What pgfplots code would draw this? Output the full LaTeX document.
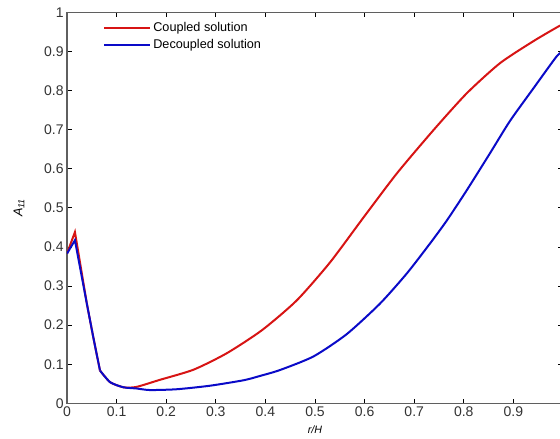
\documentclass[border=0pt]{standalone}
\usepackage{pgfplots}
\pgfplotsset{compat=1.18}
\usepackage{fontspec}
\setmainfont{Liberation Sans}
\definecolor{axcol}{RGB}{95,95,95}
\definecolor{redc}{RGB}{215,20,20}
\definecolor{bluec}{RGB}{10,10,200}
\begin{document}
\begin{tikzpicture}
\begin{axis}[
  scale only axis,
  width=372pt, height=293.25pt,
  xmin=0, xmax=1, ymin=0, ymax=1,
  xtick={0,0.1,...,0.95}, ytick={0,0.1,...,1},
  extra x ticks={1}, extra x tick labels={},
  xticklabels={0,0.1,0.2,0.3,0.4,0.5,0.6,0.7,0.8,0.9},
  yticklabels={0,0.1,0.2,0.3,0.4,0.5,0.6,0.7,0.8,0.9,1},
  tick align=inside,
  major tick length=3.5pt,
  tick style={black, line width=0.6pt},
  axis line style={axcol, line width=1.2pt},
  ticklabel style={font=\fontsize{10.5}{12}\selectfont, text=black!80},
  xticklabel style={yshift=1pt},
  yticklabel style={xshift=1pt},
  xlabel={\textit{r/H}},
  xlabel style={font=\fontsize{8}{9}\selectfont, yshift=0pt},
  ylabel={\textit{A}\textsubscript{\textit{11}}},
  ylabel style={font=\fontsize{9.5}{10}\selectfont, yshift=8pt},
  legend style={draw=none, fill=none, at={(0.07,0.985)}, anchor=north west,
    font=\fontsize{9.5}{11}\selectfont, row sep=0pt,
    inner sep=1pt},
  legend cell align=left,
  legend image code/.code={\draw[#1] (0pt,0pt) -- (34pt,0pt);},
]
\addplot[redc, line width=1.5pt, smooth, tension=0.4] coordinates {
(0.0665,0.084)
(0.087,0.054) (0.114,0.041) (0.14,0.042) (0.187,0.060) (0.255,0.086)
(0.322,0.128) (0.393,0.187) (0.463,0.263) (0.530,0.360) (0.597,0.474)
(0.665,0.588) (0.739,0.699) (0.806,0.793) (0.873,0.870) (0.940,0.926)
(0.991,0.964) (1,0.968)
};
\addlegendentry{Coupled solution}
\addplot[bluec, line width=1.5pt, smooth, tension=0.4] coordinates {
(0.0665,0.084)
(0.087,0.054) (0.114,0.041) (0.14,0.038) (0.167,0.034) (0.221,0.036)
(0.288,0.045) (0.356,0.059) (0.389,0.070) (0.429,0.085) (0.497,0.120)
(0.564,0.177) (0.631,0.255) (0.685,0.332) (0.732,0.409) (0.766,0.468)
(0.806,0.545) (0.853,0.640) (0.893,0.722) (0.940,0.805) (0.987,0.887)
(1,0.90)
};
\addlegendentry{Decoupled solution}
\addplot[redc, line width=1.5pt, forget plot] coordinates {
(0,0.383) (0.016,0.438) (0.04,0.255) (0.053,0.169) (0.0665,0.084)
};
\addplot[bluec, line width=1.5pt, forget plot] coordinates {
(0,0.383) (0.016,0.417) (0.04,0.255) (0.053,0.169) (0.0665,0.084)
};
\end{axis}
\pgfresetboundingbox
\path[use as bounding box] (-50.25pt,-26.5pt) rectangle (369.75pt,302.5pt);
\end{tikzpicture}
\end{document}
